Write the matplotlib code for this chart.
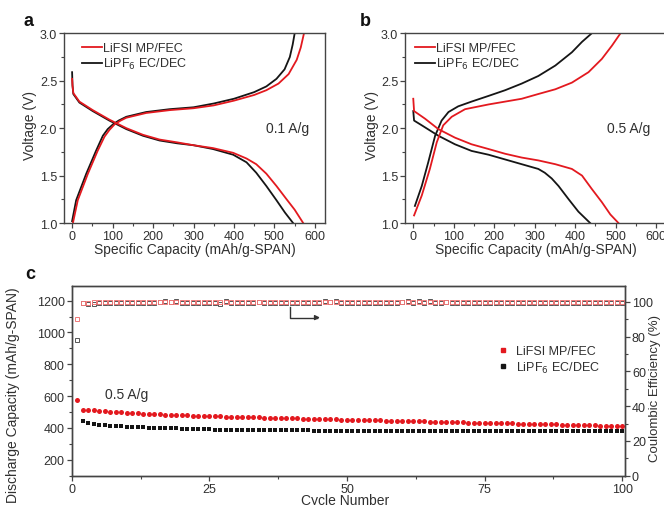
import matplotlib
matplotlib.use("Agg")
import matplotlib.pyplot as plt
from matplotlib.lines import Line2D
from matplotlib.ticker import MultipleLocator

plt.rcParams["font.family"] = ["Liberation Sans", "DejaVu Sans"]
plt.rcParams["axes.unicode_minus"] = False

RED = "#e3191f"
BLACK = "#151515"
TXT = "#303030"

LABEL_FSI = "LiFSI MP/FEC"
LABEL_PF6 = "LiPF$_6$ EC/DEC"

# ── panel a: 0.1 A/g voltage profiles ──
a_fsi_dis_x = [0, 1, 3, 18, 51, 92, 134, 175, 216, 260, 300, 348, 398, 431, 455, 480, 505, 530, 550, 571]
a_fsi_dis_v = [2.52, 2.45, 2.37, 2.28, 2.19, 2.09, 2.00, 1.93, 1.88, 1.85, 1.82, 1.79, 1.74, 1.68, 1.62, 1.52, 1.39, 1.25, 1.14, 1.0]
a_pf6_dis_x = [0, 1, 3, 18, 51, 92, 134, 175, 216, 260, 300, 348, 398, 431, 455, 480, 505, 526, 546]
a_pf6_dis_v = [2.59, 2.45, 2.36, 2.27, 2.18, 2.08, 1.99, 1.92, 1.87, 1.84, 1.82, 1.78, 1.72, 1.64, 1.53, 1.39, 1.24, 1.11, 1.0]
a_fsi_chg_x = [2, 14, 39, 63, 80, 92, 105, 120, 134, 183, 241, 300, 350, 400, 450, 480, 510, 535, 555, 565, 573]
a_fsi_chg_v = [1.0, 1.24, 1.52, 1.76, 1.91, 1.98, 2.04, 2.08, 2.11, 2.16, 2.19, 2.21, 2.24, 2.29, 2.35, 2.40, 2.47, 2.57, 2.72, 2.85, 3.0]
a_pf6_chg_x = [0, 10, 35, 59, 76, 88, 101, 115, 134, 183, 241, 300, 350, 400, 450, 480, 505, 525, 538, 545, 550]
a_pf6_chg_v = [1.02, 1.24, 1.52, 1.76, 1.92, 1.99, 2.04, 2.08, 2.12, 2.17, 2.20, 2.22, 2.26, 2.31, 2.38, 2.44, 2.52, 2.62, 2.75, 2.88, 3.0]

# ── panel b: 0.5 A/g voltage profiles ──
b_fsi_dis_x = [0, 2, 29, 62, 103, 144, 186, 227, 268, 309, 351, 392, 417, 441, 466, 487, 507]
b_fsi_dis_v = [2.31, 2.18, 2.10, 1.99, 1.90, 1.83, 1.78, 1.73, 1.69, 1.66, 1.62, 1.57, 1.50, 1.36, 1.22, 1.09, 1.0]
b_pf6_dis_x = [0, 2, 21, 62, 103, 144, 186, 227, 268, 309, 325, 342, 359, 384, 408, 437]
b_pf6_dis_v = [2.18, 2.08, 2.03, 1.92, 1.83, 1.76, 1.72, 1.67, 1.62, 1.57, 1.53, 1.47, 1.39, 1.25, 1.12, 1.0]
b_fsi_chg_x = [2, 21, 41, 58, 74, 95, 128, 186, 227, 268, 309, 351, 392, 433, 466, 491, 512]
b_fsi_chg_v = [1.08, 1.29, 1.57, 1.85, 2.03, 2.12, 2.20, 2.25, 2.28, 2.31, 2.36, 2.41, 2.48, 2.59, 2.73, 2.87, 3.0]
b_pf6_chg_x = [4, 21, 37, 54, 70, 87, 111, 144, 186, 227, 268, 309, 351, 392, 417, 441]
b_pf6_chg_v = [1.18, 1.39, 1.64, 1.92, 2.08, 2.17, 2.23, 2.28, 2.34, 2.40, 2.47, 2.55, 2.66, 2.80, 2.91, 3.0]

# ── panel c: cycling at 0.5 A/g ──
cycles = list(range(1, 101))
cap_fsi = [578, 515, 512, 510, 507, 505, 503, 500, 498, 496,
           494, 492, 490, 489, 487, 486, 484, 483, 481, 480,
           479, 477, 476, 475, 474, 473, 472, 471, 470, 469,
           469, 468, 467, 466, 465, 464, 463, 463, 462, 461,
           460, 459, 458, 457, 457, 456, 455, 454, 453, 452,
           451, 450, 450, 449, 448, 447, 446, 446, 445, 444,
           443, 442, 442, 441, 440, 439, 438, 438, 437, 436,
           435, 434, 434, 433, 432, 431, 430, 430, 429, 428,
           427, 426, 426, 425, 424, 423, 422, 422, 421, 420,
           419, 418, 418, 417, 416, 415, 414, 414, 413, 412]
cycles_pf6 = list(range(2, 101))
cap_pf6 = [445, 432, 425, 420, 417, 415, 413, 411, 409,
           407, 405, 404, 402, 401, 400, 399, 398, 397, 396,
           395, 394, 393, 392, 391, 390, 390, 389, 389, 389,
           388, 388, 388, 387, 387, 387, 386, 386, 386, 385,
           385, 385, 385, 384, 384, 384, 384, 383, 383, 383,
           383, 383, 383, 383, 382, 382, 382, 382, 382, 382,
           382, 382, 382, 382, 381, 381, 381, 381, 381, 381,
           381, 381, 381, 381, 380, 380, 380, 380, 380, 380,
           380, 380, 380, 380, 380, 380, 379, 379, 379, 379,
           379, 379, 379, 379, 379, 379, 379, 379, 379, 379]
ce_fsi = [90.0, 99.6, 99.6, 99.7, 99.7, 99.7, 99.7, 99.7, 99.7, 99.7,
          99.7, 99.7, 99.7, 99.7, 99.7, 99.7, 99.7, 99.7, 99.7, 99.7,
          99.7, 99.7, 99.7, 99.7, 99.7, 99.7, 99.7, 99.7, 99.7, 99.7,
          99.7, 99.7, 99.7, 99.7, 99.7, 99.7, 99.7, 99.7, 99.7, 99.7,
          99.7, 99.7, 99.7, 99.7, 99.7, 99.7, 99.7, 99.7, 99.7, 99.7,
          99.7, 99.7, 99.7, 99.7, 99.7, 99.7, 99.7, 99.7, 99.7, 99.7,
          99.7, 99.7, 99.7, 99.7, 99.7, 99.7, 99.7, 99.7, 99.7, 99.7,
          99.7, 99.7, 99.7, 99.7, 99.7, 99.7, 99.7, 99.7, 99.7, 99.7,
          99.7, 99.7, 99.7, 99.7, 99.7, 99.7, 99.7, 99.7, 99.7, 99.7,
          99.7, 99.7, 99.7, 99.7, 99.7, 99.7, 99.7, 99.7, 99.7, 99.7]
ce_pf6 = [78.0, 99.5, 98.9, 99.0, 99.6, 99.6, 99.6, 99.6, 99.6, 99.6,
          99.6, 99.6, 99.6, 99.6, 99.6, 100.2, 100.3, 100.2, 100.3, 99.6,
          99.6, 99.6, 99.6, 99.6, 99.6, 99.6, 99.0, 100.3, 99.6, 99.6,
          99.6, 99.6, 99.6, 100.2, 99.6, 99.6, 99.6, 99.6, 99.6, 99.6,
          99.6, 99.6, 99.6, 99.6, 99.6, 100.3, 100.2, 100.3, 99.6, 99.6,
          99.6, 99.6, 99.6, 99.6, 99.6, 99.6, 99.6, 99.6, 99.6, 100.2,
          100.3, 99.6, 100.4, 99.6, 100.3, 99.6, 99.6, 100.2, 99.6, 99.6,
          99.6, 99.6, 99.6, 99.6, 99.6, 99.6, 99.6, 99.6, 99.6, 99.6,
          99.6, 99.6, 99.6, 99.6, 99.6, 99.6, 99.6, 99.6, 99.6, 99.6,
          99.6, 99.6, 99.6, 99.6, 99.6, 99.6, 99.6, 99.6, 99.6, 99.6]


def style_axes(ax):
    for sp in ax.spines.values():
        sp.set_color("#444444")
        sp.set_linewidth(1.0)
    ax.tick_params(which="major", direction="out", length=3.5, width=0.9,
                   colors="#444444", labelcolor=TXT, labelsize=9, pad=1.5)
    ax.tick_params(which="minor", direction="out", length=2, width=0.8,
                   colors="#444444")


def voltage_panel(ax, curves, rate, leg_x, ylab_x):
    for x, v, c in curves:
        ax.plot(x, v, color=c, linewidth=1.3)
    ax.set_xlim(-20, 625)
    ax.set_ylim(1.0, 3.0)
    ax.xaxis.set_major_locator(MultipleLocator(100))
    ax.xaxis.set_minor_locator(MultipleLocator(50))
    ax.yaxis.set_major_locator(MultipleLocator(0.5))
    ax.yaxis.set_minor_locator(MultipleLocator(0.25))
    style_axes(ax)
    ax.set_xlabel("Specific Capacity (mAh/g-SPAN)", fontsize=10, color=TXT)
    ax.set_ylabel("Voltage (V)", fontsize=10, color=TXT)
    ax.xaxis.set_label_coords(0.5, -0.10)
    ax.yaxis.set_label_coords(ylab_x, 0.52)
    ax.text(533, 2.0, rate, fontsize=10, color=TXT, ha="center", va="center")
    handles = [Line2D([], [], color=RED, lw=1.3), Line2D([], [], color=BLACK, lw=1.3)]
    ax.legend(handles, [LABEL_FSI, LABEL_PF6], loc="upper left", frameon=False,
              fontsize=9, handlelength=1.6, handletextpad=0.1, labelspacing=0.15,
              borderaxespad=0.3, bbox_to_anchor=(leg_x, 1.0), labelcolor=TXT)


fig = plt.figure(figsize=(6.64, 5.06), dpi=100)

ax_a = fig.add_axes([0.0964, 0.5573, 0.3931, 0.3749])
voltage_panel(ax_a, [
    (a_pf6_dis_x, a_pf6_dis_v, BLACK), (a_pf6_chg_x, a_pf6_chg_v, BLACK),
    (a_fsi_dis_x, a_fsi_dis_v, RED), (a_fsi_chg_x, a_fsi_chg_v, RED),
], "0.1 A/g", 0.035, -0.103)

ax_b = fig.add_axes([0.6102, 0.5573, 0.3931, 0.3749])
voltage_panel(ax_b, [
    (b_pf6_dis_x, b_pf6_dis_v, BLACK), (b_pf6_chg_x, b_pf6_chg_v, BLACK),
    (b_fsi_dis_x, b_fsi_dis_v, RED), (b_fsi_chg_x, b_fsi_chg_v, RED),
], "0.5 A/g", 0.005, -0.10)

# panel c
ax_c = fig.add_axes([0.1080, 0.0579, 0.8333, 0.3743])
ax_r = ax_c.twinx()
ax_c.plot(cycles, cap_fsi, "o", color=RED, markersize=3.6, markeredgewidth=0, zorder=3)
ax_c.plot(cycles_pf6, cap_pf6, "s", color=BLACK, markersize=3.4, markeredgewidth=0, zorder=3)
ax_r.plot(cycles, ce_pf6, "s", mfc="none", mec="#555555", markersize=3.2, markeredgewidth=0.7)
ax_r.plot(cycles, ce_fsi, "s", mfc="none", mec="#ee7777", markersize=3.2, markeredgewidth=0.7)

ax_c.set_xlim(0, 100.5)
ax_c.set_ylim(100, 1290)
ax_r.set_ylim(0, 109)
ax_c.xaxis.set_major_locator(MultipleLocator(25))
ax_c.xaxis.set_minor_locator(MultipleLocator(12.5))
ax_c.yaxis.set_major_locator(MultipleLocator(200))
ax_c.yaxis.set_minor_locator(MultipleLocator(100))
ax_r.yaxis.set_major_locator(MultipleLocator(20))
ax_r.yaxis.set_minor_locator(MultipleLocator(10))
style_axes(ax_c)
style_axes(ax_r)
ax_c.set_xlabel("Cycle Number", fontsize=10, color=TXT)
ax_c.xaxis.set_label_coords(0.494, -0.089)
ax_c.set_ylabel("Discharge Capacity (mAh/g-SPAN)", fontsize=10, color=TXT)
ax_c.yaxis.set_label_coords(-0.094, 0.43)
ax_r.set_ylabel("Coulombic Efficiency (%)", fontsize=9.5, color=TXT)
ax_r.yaxis.set_label_coords(1.044, 0.465)
ax_c.text(6, 613, "0.5 A/g", fontsize=10, color=TXT, ha="left", va="center")

# arrow pointing to the right axis
ax_r.plot([39.7, 39.7, 44.5], [96.9, 91.0, 91.0], color="#333333", lw=1.0)
ax_r.annotate("", xy=(45.6, 91.0), xytext=(44.0, 91.0),
              arrowprops=dict(arrowstyle="-|>", color="#333333", lw=1.0,
                              mutation_scale=7))

leg_handles = [Line2D([], [], ls="none", marker="s", color=RED, markersize=3.5),
               Line2D([], [], ls="none", marker="s", color=BLACK, markersize=3.5)]
ax_c.legend(leg_handles, [LABEL_FSI, LABEL_PF6], loc="upper left",
            bbox_to_anchor=(0.748, 0.75), frameon=False, fontsize=9,
            handlelength=1.0, handletextpad=0.5, labelspacing=0.2, labelcolor=TXT)

# panel letters
fig.text(23 / 664, 1 - 26 / 506, "a", fontsize=13, fontweight="bold", color="#111111")
fig.text(360 / 664, 1 - 26 / 506, "b", fontsize=13, fontweight="bold", color="#111111")
fig.text(25 / 664, 1 - 279 / 506, "c", fontsize=13, fontweight="bold", color="#111111")

fig.savefig("out.png", dpi=100)
plt.close(fig)
